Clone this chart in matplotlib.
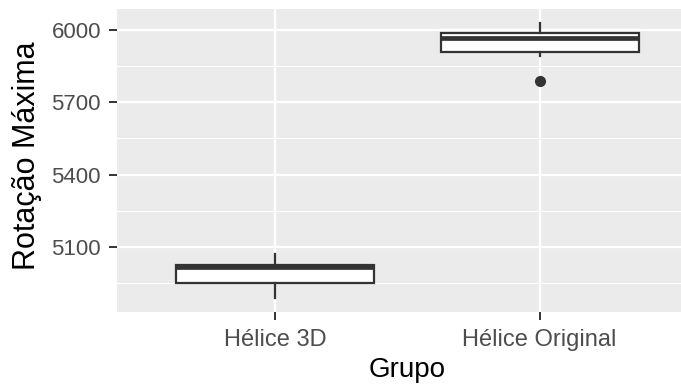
import matplotlib
matplotlib.use("Agg")
import matplotlib.pyplot as plt
from matplotlib.ticker import FixedLocator

plt.rcParams['font.family'] = ['Liberation Sans', 'DejaVu Sans']

# Summary statistics of the maximum rotation per propeller group
grupos = ["Hélice 3D", "Hélice Original"]
medianas = [5016, 5965]
q1 = [4950, 5910]
q3 = [5026, 5985]
bigode_inf = [4890, 5890]
bigode_sup = [5071, 6029]
outliers = [[], [5786]]

y_major = [5100, 5400, 5700, 6000]
y_minor = [4950, 5250, 5550, 5850]

stats = []
for i, g in enumerate(grupos):
    stats.append(dict(label=g, med=medianas[i], q1=q1[i], q3=q3[i],
                      whislo=bigode_inf[i], whishi=bigode_sup[i],
                      fliers=outliers[i]))

W, H, DPI = 681, 387, 100
fig = plt.figure(figsize=(W / DPI, H / DPI), dpi=DPI)
fig.patch.set_facecolor("white")

left, right, top, bottom = 117, 698, 9, 311.7
ax = fig.add_axes([left / W, 1 - bottom / H, (right - left) / W, (bottom - top) / H])
ax.set_facecolor("#EBEBEB")
for s in ax.spines.values():
    s.set_visible(False)

dark = "#333333"
ax.bxp(stats, positions=[1, 2], widths=0.75, showcaps=False, patch_artist=True,
       boxprops=dict(facecolor="white", edgecolor=dark, linewidth=1.6),
       whiskerprops=dict(color=dark, linewidth=1.6),
       medianprops=dict(color=dark, linewidth=3.4, solid_capstyle="butt"),
       flierprops=dict(marker="o", markerfacecolor=dark, markeredgecolor=dark,
                       markersize=7.0, linestyle="none"),
       zorder=3)

# ggplot-style 5% expansion of the data range
lo = min(min(bigode_inf), min(min(o) for o in outliers if o))
hi = max(bigode_sup)
pad = 0.05 * (hi - lo)
ax.set_ylim(lo - pad, hi + pad)
ax.set_xlim(0.4, 2.6)

ax.yaxis.set_major_locator(FixedLocator(y_major))
ax.yaxis.set_minor_locator(FixedLocator(y_minor))
ax.set_xticks([1, 2])
ax.set_xticklabels(grupos)

ax.set_axisbelow(True)
ax.grid(which="major", color="white", linewidth=1.6)
ax.grid(which="minor", axis="y", color="white", linewidth=0.8)

ax.tick_params(axis="both", which="major", length=5.5, width=1.4, color=dark,
               labelcolor="#4D4D4D")
ax.tick_params(axis="y", which="major", labelsize=16, pad=6)
ax.tick_params(axis="x", which="major", labelsize=17, pad=7)
ax.tick_params(axis="y", which="minor", length=0)

# axis titles
fig.text((left + right) / 2 / W, 1 - 370 / H, "Grupo", fontsize=20,
         color="black", ha="center", va="center")
fig.text(27 / W, 1 - 156 / H, "Rotação Máxima", fontsize=22, color="black",
         ha="center", va="center", rotation=90)

fig.savefig("out.png", dpi=DPI)
